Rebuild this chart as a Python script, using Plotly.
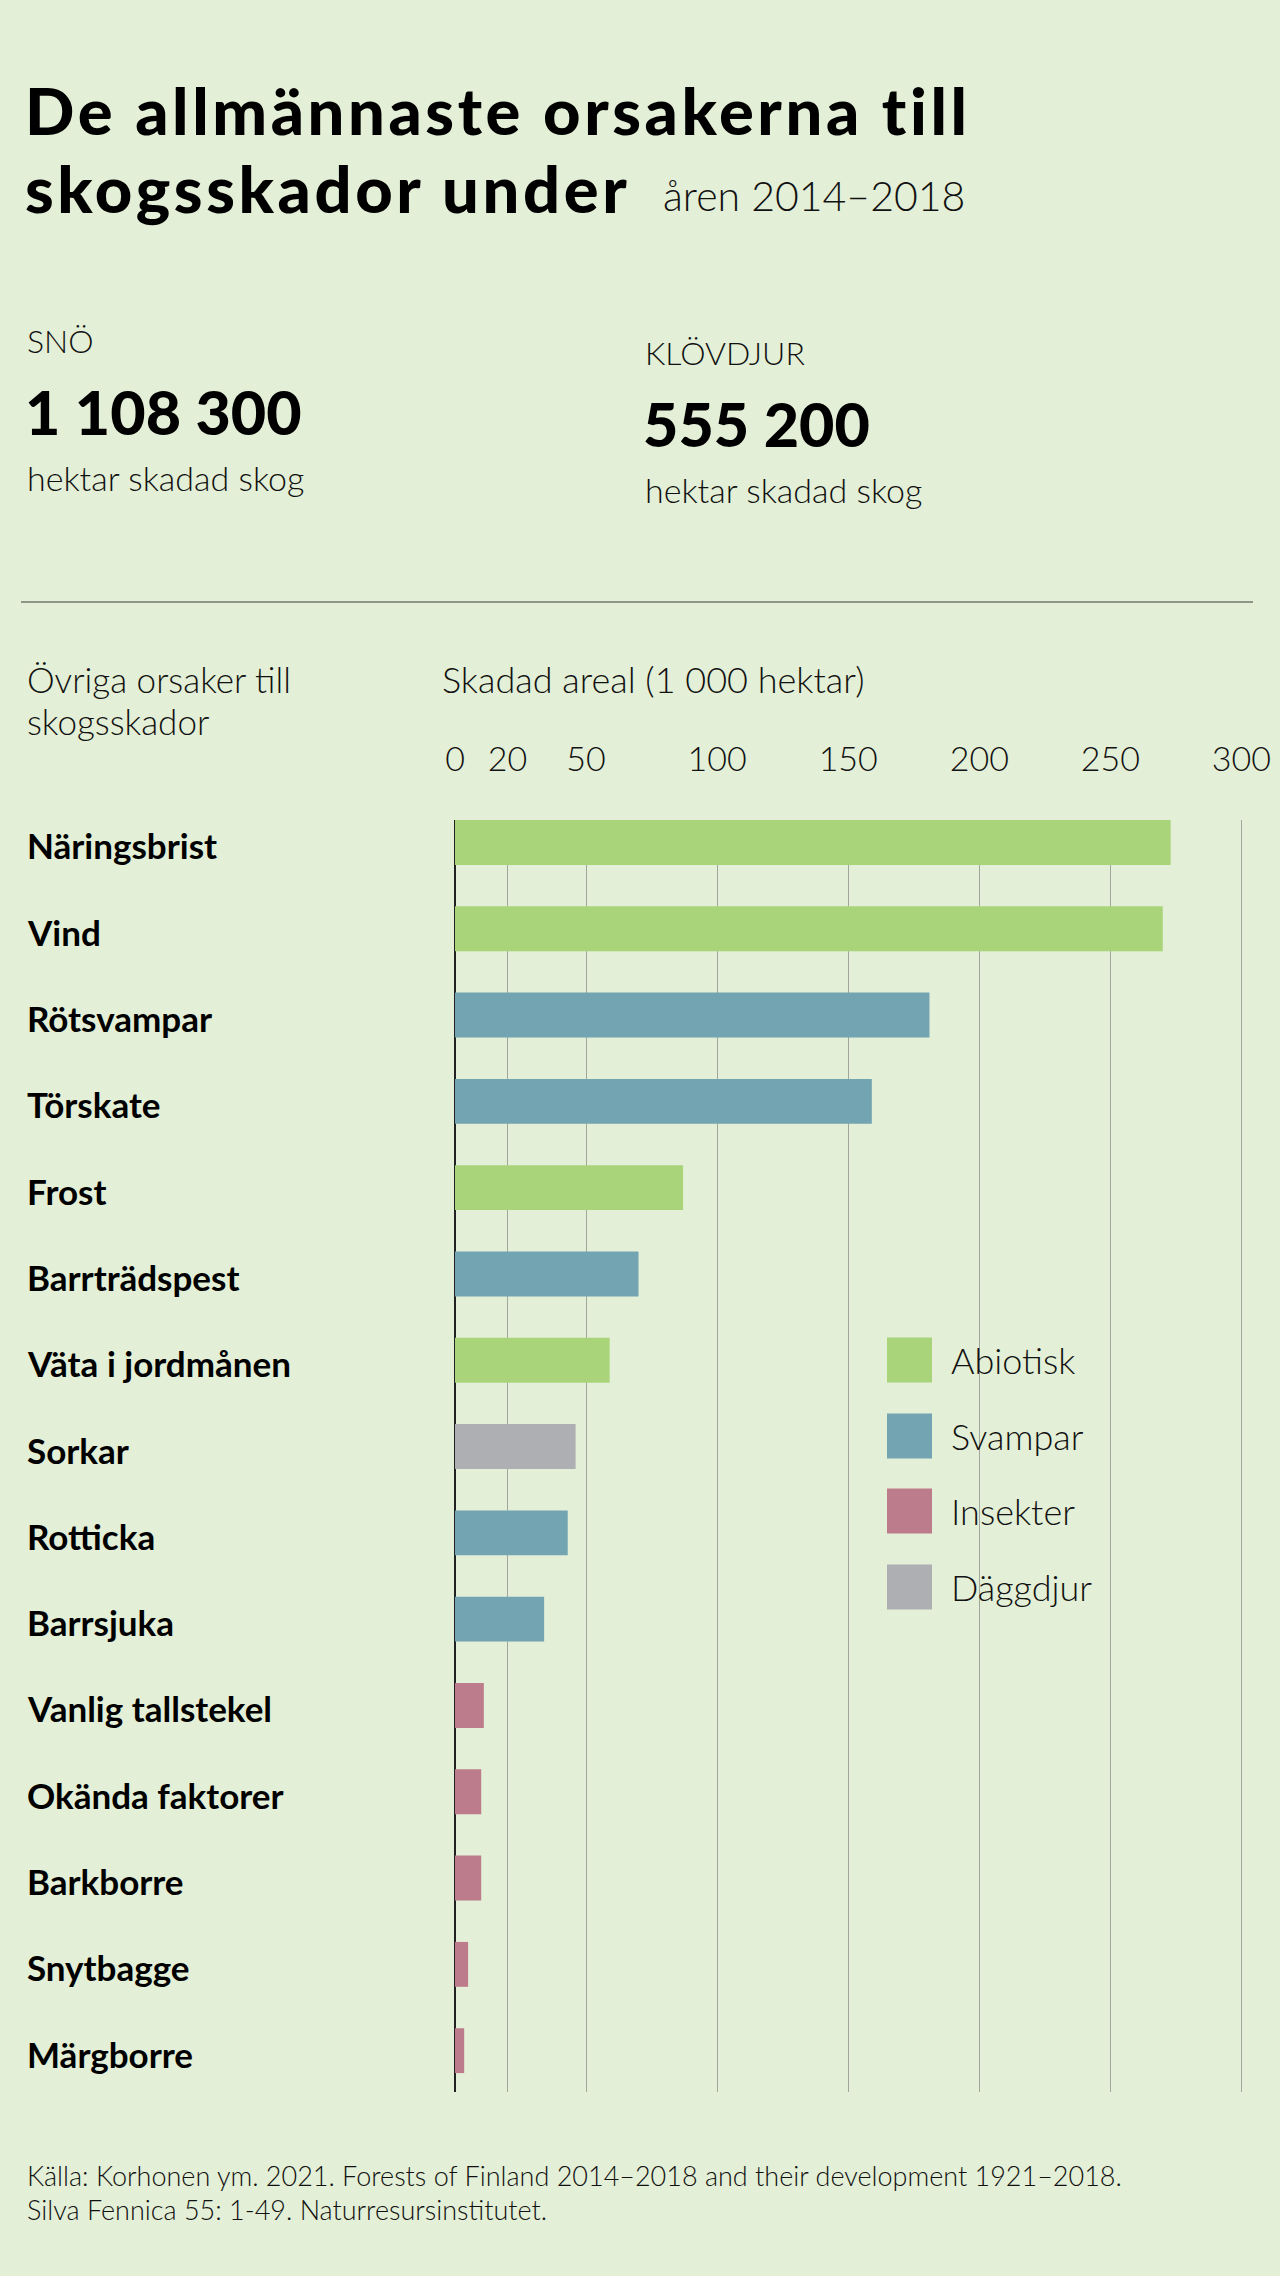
import plotly.graph_objects as go

# ---------------- data ----------------
categories = ["Näringsbrist", "Vind", "Rötsvampar", "Törskate", "Frost",
              "Barrträdspest", "Väta i jordmånen", "Sorkar", "Rotticka",
              "Barrsjuka", "Vanlig tallstekel", "Okända faktorer",
              "Barkborre", "Snytbagge", "Märgborre"]
values = [273, 270, 181, 159, 87, 70, 59, 46, 43, 34, 11, 10, 10, 5, 3.5]
groups = ["Abiotisk", "Abiotisk", "Svampar", "Svampar", "Abiotisk",
          "Svampar", "Abiotisk", "Däggdjur", "Svampar", "Svampar",
          "Insekter", "Insekter", "Insekter", "Insekter", "Insekter"]
legend_groups = ["Abiotisk", "Svampar", "Insekter", "Däggdjur"]
group_colors = {"Abiotisk": "#a9d479", "Svampar": "#73a4b1",
                "Insekter": "#bd7c8c", "Däggdjur": "#adafb3"}
tick_values = [0, 20, 50, 100, 150, 200, 250, 300]
tick_labels = ["0", "20", "50", "100", "150", "200", "250", "300"]

stat_labels = ["SNÖ", "KLÖVDJUR"]
stat_values = ["1 108 300", "555 200"]
stat_unit = "hektar skadad skog"

title_line1 = "De allmännaste orsakerna till"
title_line2 = "skogsskador under"
title_years = "åren 2014–2018"
side_heading = ["Övriga orsaker till", "skogsskador"]
axis_title = "Skadad areal (1 000 hektar)"
source_lines = ["Källa: Korhonen ym. 2021. Forests of Finland 2014–2018 and their development 1921–2018.",
                "Silva Fennica 55: 1-49. Naturresursinstitutet."]

# ---------------- layout geometry ----------------
W, H = 1280, 2276
L, R, T, B = 455, 37, 820, 184
PW, PH = W - L - R, H - T - B
BG = "#e3efd6"
FONT = "Lato"


def px(x):
    return (x - L) / PW


def py(y):
    return 1 - (y - T) / PH


def text_ann(text, x, baseline, size, weight=300, color="#111"):
    # place annotation using approximate baseline position
    return dict(text=text, xref="paper", yref="paper", x=px(x),
                y=py(baseline - 0.387 * size), xanchor="left", yanchor="middle",
                showarrow=False, align="left", borderpad=0,
                font=dict(family=FONT, size=size, weight=weight, color=color))


fig = go.Figure()
for g in legend_groups:
    ys = [c for c, gg in zip(categories, groups) if gg == g]
    xs = [v for v, gg in zip(values, groups) if gg == g]
    fig.add_trace(go.Bar(x=xs, y=ys, orientation="h", name=g, width=0.52,
                         marker=dict(color=group_colors[g], line=dict(width=0)),
                         showlegend=False, hovertemplate="%{y}: %{x}<extra></extra>"))

annotations = []
# titles
sp = "<span style='letter-spacing:3.6px'>{}</span>"
annotations.append(text_ann(sp.format(title_line1), 24, 135, 65, weight=900, color="#000"))
annotations.append(text_ann(sp.format(title_line2), 24, 213, 65, weight=900, color="#000"))
annotations.append(text_ann(title_years, 662, 211, 41, weight=300, color="#111"))
# stats
for i, (lab, val) in enumerate(zip(stat_labels, stat_values)):
    x0 = 26 if i == 0 else 644
    dy = 0 if i == 0 else 12
    annotations.append(text_ann(lab, x0, 353 + dy, 32))
    annotations.append(text_ann(val, x0 - 2, 435 + dy, 61, weight=900, color="#000"))
    annotations.append(text_ann(stat_unit, x0, 491 + dy, 34))
# headings
for j, line in enumerate(side_heading):
    annotations.append(text_ann(line, 26, 693 + 42 * j, 35))
annotations.append(text_ann(axis_title, 441, 693, 36))
# source
for j, line in enumerate(source_lines):
    annotations.append(text_ann(line, 26, 2186 + 34 * j, 27))
# category labels
for c in categories:
    annotations.append(dict(text=c, xref="paper", yref="y", x=px(26), y=c,
                            xanchor="left", yanchor="middle", yshift=-3,
                            showarrow=False, borderpad=0,
                            font=dict(family=FONT, size=35, weight=700, color="#000")))

# custom legend
shapes = []
leg_centers = [1360, 1436, 1511, 1587]
for g, cy in zip(legend_groups, leg_centers):
    shapes.append(dict(type="rect", xref="paper", yref="paper",
                       x0=px(887), x1=px(932), y0=py(cy + 22.5), y1=py(cy - 22.5),
                       fillcolor=group_colors[g], line=dict(width=0), layer="above"))
    annotations.append(dict(text=g, xref="paper", yref="paper", x=px(950), y=py(cy),
                            xanchor="left", yanchor="middle", showarrow=False, borderpad=0,
                            font=dict(family=FONT, size=36, weight=300, color="#111")))
# header separator
shapes.append(dict(type="line", xref="paper", yref="paper", x0=px(21), x1=px(1253),
                   y0=py(602), y1=py(602), line=dict(color="#8d9688", width=2)))

fig.update_layout(
    width=W, height=H, margin=dict(l=L, r=R, t=T, b=B, autoexpand=False),
    paper_bgcolor=BG, plot_bgcolor=BG, barmode="overlay", bargap=0.48,
    annotations=annotations, shapes=shapes, showlegend=False,
    font=dict(family=FONT, color="#111"),
    xaxis=dict(range=[0, 300.6], side="top", tickvals=tick_values, ticktext=tick_labels,
               showgrid=True, gridcolor="#a3a69f", gridwidth=1.2,
               zeroline=True, zerolinecolor="#222", zerolinewidth=1.6,
               ticks="outside", ticklen=34, tickcolor="rgba(0,0,0,0)",
               tickfont=dict(family=FONT, size=34, weight=300, color="#111"),
               showline=False, fixedrange=True),
    yaxis=dict(type="category", categoryorder="array", categoryarray=categories,
               range=[14.479, -0.26], showticklabels=False, showgrid=False,
               zeroline=False, showline=False, ticks="", fixedrange=True),
)

fig.write_html("out.html", config={"displayModeBar": False},
               post_script="document.body.style.margin='0px';document.body.style.background='%s';" % BG)
